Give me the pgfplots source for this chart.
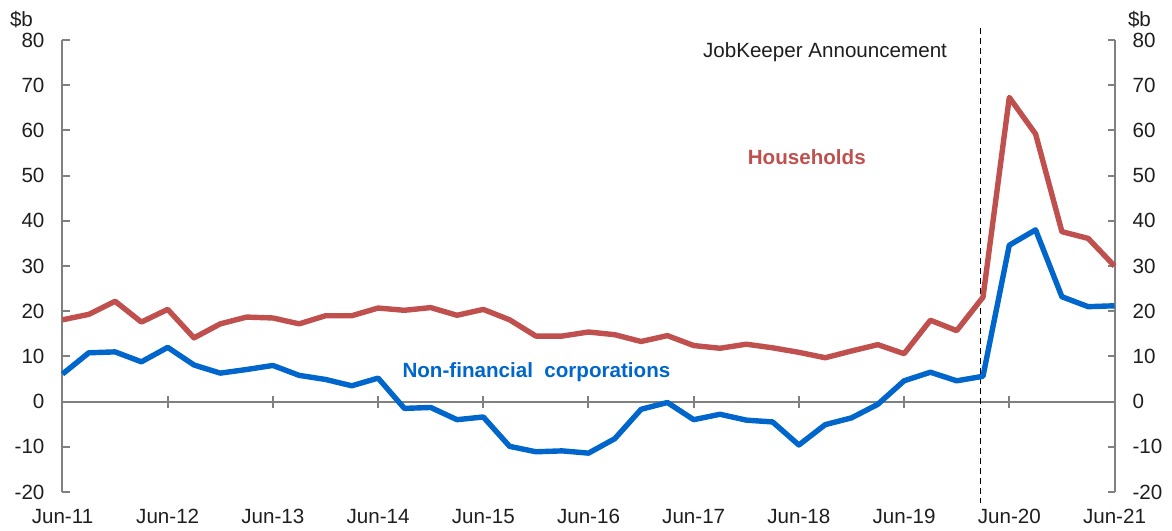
\documentclass[border=0pt]{standalone}
\usepackage{pgfplots}
\pgfplotsset{compat=1.18}
\usepackage{fontspec}
\setmainfont{Liberation Sans}
\definecolor{hh}{RGB}{192,80,77}
\definecolor{nfc}{RGB}{0,102,204}
\definecolor{ax}{RGB}{128,128,128}
\definecolor{txt}{RGB}{30,30,30}
\newcommand{\fs}{\fontsize{10.3pt}{12pt}\selectfont}
\pgfplotstableread{
x hh nfc
0 18.1 6.1
1 19.3 10.8
2 22.2 11.0
3 17.6 8.8
4 20.4 12.0
5 14.1 8.1
6 17.2 6.3
7 18.7 7.1
8 18.5 8.0
9 17.2 5.8
10 19.0 4.9
11 19.0 3.5
12 20.7 5.2
13 20.2 -1.5
14 20.8 -1.3
15 19.1 -4.0
16 20.4 -3.4
17 18.1 -9.9
18 14.5 -11.1
19 14.5 -10.9
20 15.4 -11.4
21 14.8 -8.2
22 13.3 -1.7
23 14.6 -0.2
24 12.4 -4.0
25 11.8 -2.8
26 12.7 -4.1
27 11.9 -4.5
28 10.9 -9.6
29 9.7 -5.1
30 11.2 -3.6
31 12.6 -0.6
32 10.6 4.6
33 18.0 6.5
34 15.7 4.6
35 23.1 5.6
36 67.3 34.6
37 59.2 38.0
38 37.6 23.2
39 36.1 21.0
40 30.0 21.2
}\data
\begin{document}
\begin{tikzpicture}
\pgfplotsset{
  common/.style={
    scale only axis, width=526pt, height=226pt,
    xmin=0, xmax=40, ymin=-20, ymax=80,
    ytick={-20,-10,...,80},
    tick label style={font=\fs, text=txt},
    /pgf/number format/assume math mode=true,
    every axis plot/.append style={line join=round},
    clip=false,
  }
}
\begin{axis}[common,
  axis y line*=right,
  axis x line=middle,
  x axis line style={ax, line width=1pt, -},
  y axis line style={ax, line width=1pt},
  xtick={4,8,...,36},
  xticklabels={},
  major x tick style={draw=none},
  major y tick style={ax, line width=1pt},
  tick align=inside,
  major tick length=3.5pt,
  yticklabel style={xshift=5.5pt},
]
\pgfplotsinvokeforeach{4,8,12,16,20,24,28,32,36}{\draw[ax, line width=1pt] ([yshift=-3pt]axis cs:#1,0) -- ([yshift=3pt]axis cs:#1,0);}
\node[font=\fs, text=txt] at ([xshift=12.5pt, yshift=10pt]rel axis cs:1,1) {\$b};
\path ([xshift=-31.25pt, yshift=-19pt]rel axis cs:0,0) rectangle ++(586pt,265pt);
\end{axis}
\begin{axis}[common,
  axis y line*=left,
  axis x line*=bottom,
  x axis line style={draw=none},
  xtick={0,4,...,40},
  xticklabels={Jun-11,Jun-12,Jun-13,Jun-14,Jun-15,Jun-16,Jun-17,Jun-18,Jun-19,Jun-20,Jun-21},
  major x tick style={draw=none},
  xticklabel style={yshift=-5pt},
  y axis line style={ax, line width=1pt},
  major y tick style={ax, line width=1pt},
  tick align=inside,
  major tick length=3.5pt,
  yticklabel style={xshift=-5.5pt},
]
\draw[black, line width=0.6pt, dash pattern=on 3pt off 2pt] (axis cs:34.9,82.7) -- (axis cs:34.9,-22.5);
\addplot[hh, line width=2.7pt] table[x=x, y=hh] {\data};
\addplot[nfc, line width=2.7pt] table[x=x, y=nfc] {\data};
\node[font=\fs, text=txt, anchor=east] at (axis cs:33.9,77.3) {JobKeeper Announcement};
\node[font=\fs\bfseries, text=hh] at (axis cs:28.3,54.1) {Households};
\node[font=\fs\bfseries, text=nfc, anchor=west] at (axis cs:12.66,6.5) {Non-financial\ \ corporations};
\node[font=\fs, text=txt] at ([xshift=-20.5pt, yshift=10pt]rel axis cs:0,1) {\$b};
\end{axis}
\end{tikzpicture}
\end{document}
